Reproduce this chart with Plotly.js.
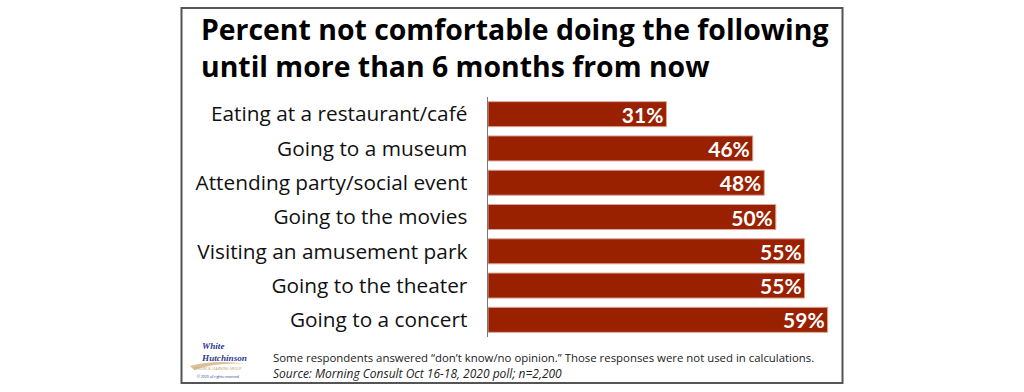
<!DOCTYPE html>
<html>
<head>
<meta charset="utf-8">
<script src="https://cdn.plot.ly/plotly-3.0.1.min.js"></script>
<style>html,body{margin:0;padding:0;background:#fff;}#chart{width:1024px;height:392px;}</style>
</head>
<body>
<div id="chart"></div>
<script>
// Data (top to bottom as shown)
const categories = [
  "Eating at a restaurant/café",
  "Going to a museum",
  "Attending party/social event",
  "Going to the movies",
  "Visiting an amusement park",
  "Going to the theater",
  "Going to a concert"
];
const percents = [31, 46, 48, 50, 55, 55, 59];
const titleLines = ["Percent not comfortable doing the following", "until more than 6 months from now"];
const noteText = "Some respondents answered “don’t know/no opinion.” Those responses were not used in calculations.";
const sourceText = "Source: Morning Consult Oct 16-18, 2020 poll; n=2,200";

// Layout geometry (pixels)
const W = 1024, H = 392;
const L = 488, R = 182, T = 97, B = 55;
const PW = W - L - R, PH = H - T - B;
const px = x => (x - L) / PW;
const py = y => (H - B - y) / PH;

const FONT = "'Open Sans', sans-serif";
const NUMFONT = "Lato, 'Open Sans', sans-serif";
const BAR = "#9a2100";

const trace = {
  type: "bar",
  orientation: "h",
  y: categories,
  x: percents,
  text: percents.map(v => v + "%"),
  textposition: "inside",
  insidetextanchor: "end",
  textangle: 0,
  constraintext: "none",
  textfont: {family: NUMFONT, size: 21, color: "#ffffff", weight: 700},
  marker: {color: BAR, line: {color: "#d9a79a", width: 1}},
  hoverinfo: "skip",
  cliponaxis: false
};

const annotations = [
  {text: titleLines.join("<br>"), x: px(199), y: py(47.5), xref: "paper", yref: "paper", showarrow: false,
   xanchor: "left", yanchor: "middle", align: "left",
   font: {family: FONT, size: 28.4, color: "#000", weight: 700}},
  {text: noteText, x: px(271), y: py(357), xanchor: "left", yanchor: "middle",
   font: {family: FONT, size: 11.4, color: "#222"}},
  {text: "<i>" + sourceText + "</i>", x: px(271), y: py(373), xanchor: "left", yanchor: "middle",
   font: {family: FONT, size: 12, color: "#222"}},
  // logo text
  {text: "<b><i>White</i></b><br><b><i>Hutchinson</i></b>", x: px(199), y: py(352), xanchor: "left", yanchor: "middle",
   align: "left", font: {family: "'Liberation Serif', serif", size: 9.2, color: "#2e3b8c"}},
  {text: "LEISURE & LEARNING GROUP", x: px(218), y: py(368.5), xanchor: "center", yanchor: "middle",
   font: {family: FONT, size: 3.5, color: "#c79a6a"}},
  {text: "© 2020 all rights reserved", x: px(218), y: py(376.5), xanchor: "center", yanchor: "middle",
   font: {family: FONT, size: 3.5, color: "#2e3b8c"}}
];
annotations.forEach(a => { if (a.xref === undefined) { a.xref = "paper"; a.yref = "paper"; a.showarrow = false; } });

const shapes = [
  {type: "rect", xref: "paper", yref: "paper", x0: px(181.5), x1: px(842.5), y0: py(383), y1: py(8),
   line: {color: "#555", width: 2}, fillcolor: "rgba(0,0,0,0)", layer: "below"},
  {type: "path", xref: "paper", yref: "paper",
   path: `M ${px(190)} ${py(366)} Q ${px(215)} ${py(359)} ${px(246)} ${py(364)} Q ${px(218)} ${py(362)} ${px(194)} ${py(370)} Z`,
   fillcolor: "#dcbf98", line: {width: 0}}
];

const layout = {
  width: W, height: H,
  margin: {l: L, r: R, t: T, b: B, pad: 0},
  paper_bgcolor: "#fff", plot_bgcolor: "#fff",
  showlegend: false,
  bargap: 0.27,
  xaxis: {range: [0, 61.5], visible: false, fixedrange: true},
  yaxis: {
    autorange: "reversed",
    showline: true, linecolor: "#777", linewidth: 1.5,
    showgrid: false, zeroline: false, ticks: "",
    ticklabelstandoff: 15,
    tickfont: {family: FONT, size: 20.8, color: "#111"},
    fixedrange: true
  },
  annotations: annotations,
  shapes: shapes
};

Plotly.newPlot("chart", [trace], layout, {displayModeBar: false, staticPlot: true});
</script>
</body>
</html>
